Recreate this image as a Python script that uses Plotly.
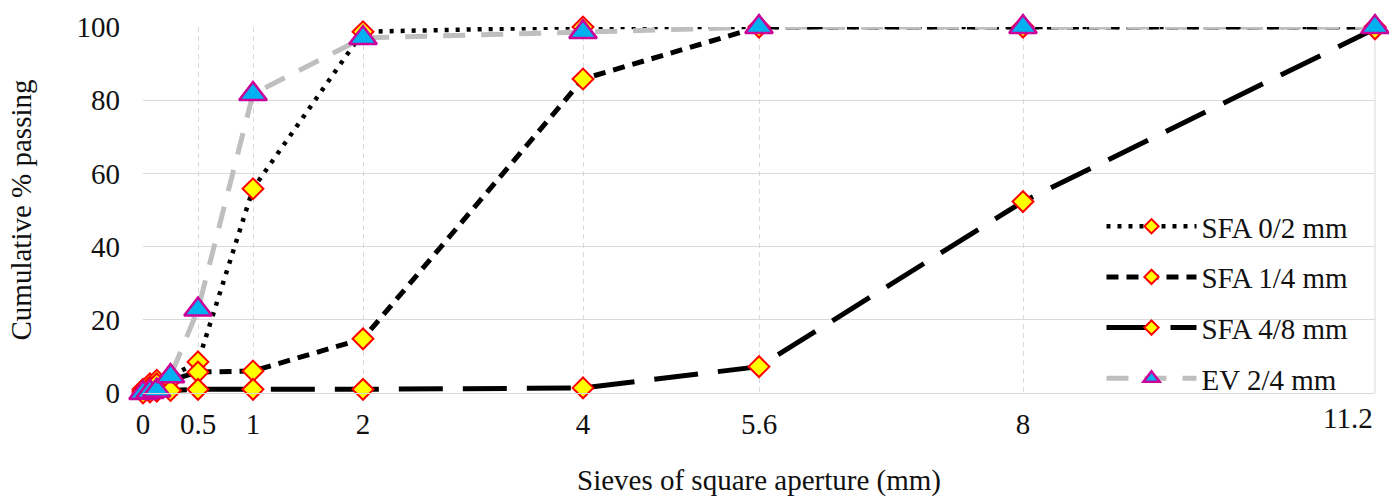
import plotly.graph_objects as go

# Sieve sizes (mm)
sieves = [0, 0.063, 0.125, 0.25, 0.5, 1, 2, 4, 5.6, 8, 11.2]

# Cumulative % passing
sfa_0_2 = [1.0, 2.5, 3.5, 4.5, 8.5, 55.8, 98.7, 100, 100, 100, 100]
sfa_1_4 = [0.5, 1.5, 2.5, 3.5, 5.7, 6.0, 14.8, 85.8, 100, 100, 100]
sfa_4_8 = [0.0, 0.3, 0.5, 0.7, 1.0, 1.0, 1.0, 1.4, 7.2, 52.3, 99.5]
ev_2_4 = [0.0, 0.3, 0.7, 4.6, 22.8, 81.7, 97.0, 98.6, 100, 100, 100]

series_names = ["SFA 0/2 mm", "SFA 1/4 mm", "SFA 4/8 mm", "EV 2/4 mm"]

x_tickvals = [0, 0.5, 1, 2, 4, 5.6, 8, 11.2]
x_ticktext = ["0", "0.5", "1", "2", "4", "5.6", "8", ""]
last_tick_label = "11.2"
y_tickvals = [0, 20, 40, 60, 80, 100]

FONT = "Liberation Serif"
FS = 29
TXT = "#111111"


def diamond(size):
    return dict(symbol="diamond", size=size, color="#FFFF00",
                line=dict(color="#FF0000", width=2))


def triangle(size):
    return dict(symbol="triangle-up", size=size, color="#00B0F0",
                line=dict(color="#CC0099", width=2.5))


lines = [
    dict(color="black", width=4.5, dash="4px,7px"),
    dict(color="black", width=5, dash="12px,8px"),
    dict(color="black", width=5, dash="44px,20px"),
    dict(color="#BFBFBF", width=5, dash="22px,16px"),
]
data = [sfa_0_2, sfa_1_4, sfa_4_8, ev_2_4]
big_markers = [diamond(16), diamond(16), diamond(16), triangle(24)]
small_markers = [diamond(11), diamond(11), diamond(11), triangle(14)]

fig = go.Figure()
for name, ys, ln, mk in zip(series_names, data, lines, big_markers):
    fig.add_trace(go.Scatter(x=sieves, y=ys, name=name, mode="lines+markers",
                             showlegend=False, cliponaxis=False,
                             line=ln, marker=mk))
# legend entries (same styles, smaller legend markers)
for i, (name, ln, mk) in enumerate(zip(series_names, lines, small_markers)):
    fig.add_trace(go.Scatter(x=[None], y=[None], name=name, mode="lines+markers",
                             legendgroup="g%d" % i, showlegend=True,
                             line=ln, marker=mk))

fig.update_layout(
    width=1389, height=500,
    margin=dict(l=143, r=14, t=27, b=107),
    paper_bgcolor="white", plot_bgcolor="white",
    font=dict(family=FONT, size=FS, color=TXT),
    showlegend=True,
    legend=dict(x=0.778, y=0.525, xanchor="left", yanchor="top",
                bgcolor="rgba(0,0,0,0)", itemwidth=90,
                tracegroupgap=10, font=dict(family=FONT, size=FS, color=TXT)),
    xaxis=dict(range=[0, 11.2], tickvals=x_tickvals, ticktext=x_ticktext,
               automargin=False,
               showgrid=True, gridcolor="#D9D9D9", griddash="5px,4px", gridwidth=1,
               zeroline=False, showline=True, linecolor="#D9D9D9", linewidth=1,
               ticks="", ticklabelstandoff=5,
               tickfont=dict(family=FONT, size=FS, color=TXT),
               title=dict(text="Sieves of square aperture (mm)", standoff=30,
                          font=dict(family=FONT, size=FS, color=TXT))),
    yaxis=dict(range=[0, 100], tickvals=y_tickvals, automargin=False,
               showgrid=True, gridcolor="#D9D9D9", gridwidth=1,
               zeroline=False, showline=False, ticks="", ticklabelstandoff=22,
               tickfont=dict(family=FONT, size=FS, color=TXT),
               title=dict(text="Cumulative % passing", standoff=36,
                          font=dict(family=FONT, size=FS, color=TXT))),
    shapes=[dict(type="line", xref="paper", yref="paper", x0=1, x1=1, y0=0, y1=1,
                 line=dict(color="#D9D9D9", width=1), layer="below")],
    annotations=[dict(text=last_tick_label, x=x_tickvals[-1], xref="x", xanchor="right",
                      y=0, yref="paper", yanchor="top", yshift=-7, showarrow=False,
                      font=dict(family=FONT, size=FS, color=TXT))],
)

fig.write_html("out.html")
